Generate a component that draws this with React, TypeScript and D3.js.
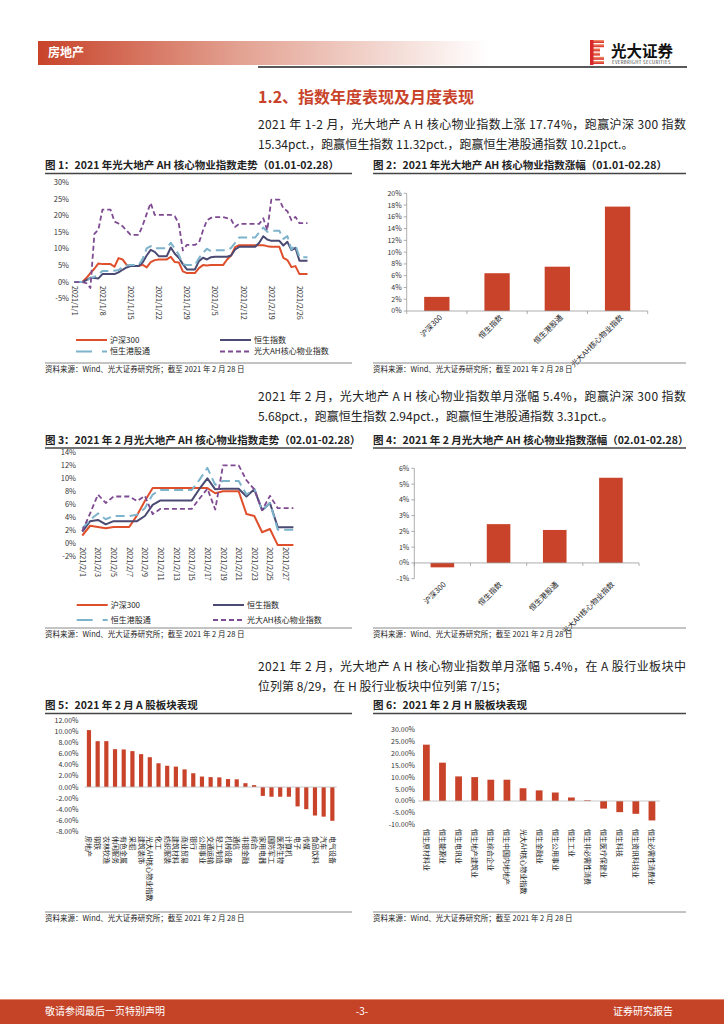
import React from 'react';
import * as d3 from 'd3';

const FONT = '"Noto Sans CJK SC", "Noto Sans", sans-serif';
const BAR = '#C8432A';
const C_HS300 = '#DF4F2C';
const C_HSI = '#4A4A72';
const C_HSGT = '#7DB3CB';
const C_AH = '#7E4A91';
const TXT = '#222';
const AX = '#333';

// ---------- Figure 1 (2021/1/1 - 2021/2/28, calendar days) ----------
const fig1Start = '2021/1/1';
const fig1TickLabels = ['2021/1/1', '2021/1/8', '2021/1/15', '2021/1/22', '2021/1/29', '2021/2/5', '2021/2/12', '2021/2/19', '2021/2/26'];
const fig1YTicks = [-5, 0, 5, 10, 15, 20, 25, 30];
const fig1Hs300 = [0, 0, 0, 1.2, 2.7, 4.0, 5.6, 5.4, 5.4, 5.4,
  4.6, 7.2, 6.8, 5.2, 4.8, 4.8, 4.8, 5.2, 4.4, 6.0,
  6.6, 6.8, 6.8, 6.8, 7.6, 6.0, 5.9, 3.2, 2.7, 2.7,
  2.7, 4.2, 5.1, 5.0, 5.1, 5.1, 5.1, 5.1, 6.8, 8.0,
  10.5, 11.1, 11.1, 11.1, 11.1, 11.1, 11.1, 11.1, 10.8, 10.6,
  10.6, 10.6, 7.3, 6.6, 4.5, 4.8, 2.4, 2.4, 2.4];
const fig1Hsi = [0, 0, 0, 0.6, 1.3, 1.2, 1.1, 2.4, 2.4, 2.4,
  2.4, 2.9, 3.7, 4.4, 4.8, 4.8, 4.8, 5.9, 8.0, 9.7,
  9.1, 7.8, 7.8, 7.8, 10.4, 8.5, 7.3, 5.4, 3.8, 3.8,
  3.8, 6.3, 7.3, 6.8, 7.5, 7.6, 7.6, 7.6, 7.6, 8.0,
  9.8, 10.6, 10.6, 10.6, 10.6, 10.6, 11.8, 13.8, 12.8, 12.4,
  12.4, 12.4, 11.0, 12.1, 9.6, 10.3, 6.4, 6.4, 6.4];
const fig1Hsgt = [0, 0, 0, 0.4, 1.1, 1.6, 2.3, 3.3, 3.3, 3.3,
  3.4, 3.6, 4.5, 5.0, 5.1, 5.1, 5.1, 7.0, 10.1, 10.8,
  10.1, 10.2, 10.2, 10.2, 11.8, 10.1, 8.2, 5.4, 5.1, 5.1,
  5.1, 7.2, 8.8, 10.0, 9.3, 9.6, 9.6, 9.6, 9.6, 10.3,
  11.8, 13.4, 13.4, 13.4, 13.4, 13.4, 15.0, 16.4, 15.1, 15.4,
  15.4, 15.4, 13.0, 13.8, 9.8, 11.1, 7.5, 7.5, 7.5];
const fig1Ah = [0, 0, 0, -0.3, -1.8, 14.5, 15.8, 21.8, 21.8, 21.8,
  18.2, 17.6, 16.8, 15.5, 14.2, 14.2, 14.2, 17.0, 20.5, 23.8,
  20.2, 20.2, 20.2, 20.2, 20.2, 19.8, 17.5, 9.5, 11.2, 11.2,
  11.2, 11.8, 15.5, 18.6, 19.3, 19.5, 19.5, 19.5, 19.2, 18.8,
  16.6, 17.5, 17.5, 17.5, 17.5, 17.5, 17.5, 19.2, 15.6, 24.8,
  24.8, 24.8, 22.2, 21.3, 18.6, 19.6, 17.7, 17.7, 17.7];

// ---------- Figure 3 (2021/2/1 - 2021/2/28) ----------
const fig3Start = '2021/2/1';
const fig3TickLabels = ['2021/2/1', '2021/2/3', '2021/2/5', '2021/2/7', '2021/2/9', '2021/2/11', '2021/2/13', '2021/2/15', '2021/2/17', '2021/2/19', '2021/2/21', '2021/2/23', '2021/2/25', '2021/2/27'];
const fig3YTicks = [-2, 0, 2, 4, 6, 8, 10, 12, 14];
const fig3Hs300 = [1.2, 2.7, 2.5, 2.3, 2.5, 2.5, 2.5, 4.3, 6.5, 8.5,
  8.5, 8.5, 8.5, 8.5, 8.5, 8.5, 8.5, 7.7, 8.0, 8.0,
  8.0, 4.5, 4.2, 1.7, 2.2, -0.28, -0.28, -0.28];
const fig3Hsi = [1.8, 3.4, 3.6, 2.9, 3.4, 3.4, 3.4, 3.4, 4.2, 5.9,
  6.6, 6.6, 6.6, 6.6, 6.6, 8.4, 10.0, 8.3, 8.4, 8.4,
  8.4, 7.2, 8.3, 5.1, 6.2, 2.46, 2.46, 2.46];
const fig3Hsgt = [2.3, 3.6, 4.6, 3.7, 4.2, 4.2, 4.2, 4.4, 5.4, 7.5,
  8.2, 8.2, 8.2, 8.2, 8.2, 9.8, 11.6, 9.0, 9.6, 9.6,
  9.6, 7.5, 8.4, 5.0, 6.2, 2.09, 2.09, 2.09];
const fig3Ah = [1.9, 4.6, 7.5, 6.2, 7.2, 7.2, 7.2, 6.5, 7.3, 4.5,
  5.3, 5.3, 5.3, 5.3, 5.3, 6.9, 8.4, 5.2, 12.0, 12.0,
  12.0, 9.7, 8.3, 5.1, 7.3, 5.4, 5.4, 5.4];

// ---------- Figures 2 & 4 ----------
const indexNames = ['沪深300', '恒生指数', '恒生港股通', '光大AH核心物业指数'];
const fig2Values = [2.40, 6.42, 7.53, 17.74];
const fig2YTicks = [0, 2, 4, 6, 8, 10, 12, 14, 16, 18, 20];
const fig4Values = [-0.28, 2.46, 2.09, 5.40];
const fig4YTicks = [-1, 0, 1, 2, 3, 4, 5, 6];

// ---------- Figure 5 (A-share sectors) ----------
const fig5Sectors = ['房地产', '钢铁', '农林牧渔', '休闲服务', '有色金属', '采掘', '建筑装饰', '光大AH核心物业指数', '化工', '纺织服装',
  '建筑材料', '商业贸易', '银行', '公用事业', '交通运输', '轻工制造', '机械设备', '通信', '非银金融', '综合',
  '家用电器', '国防军工', '医药生物', '计算机', '电子', '传媒', '食品饮料', '汽车', '电气设备'];
const fig5Values = [10.3, 8.3, 8.3, 6.85, 6.8, 6.5, 5.95, 5.4, 4.3, 3.85,
  3.7, 3.2, 2.5, 1.9, 1.8, 1.75, 1.45, 1.4, 0.7, 0.35,
  -1.6, -1.75, -1.75, -1.75, -3.5, -4.0, -5.15, -5.35, -6.1];
const fig5YTicks = [-8, -6, -4, -2, 0, 2, 4, 6, 8, 10, 12];

// ---------- Figure 6 (H-share sectors) ----------
const fig6Sectors = ['恒生原材料业', '恒生能源业', '恒生电讯业', '恒生地产建筑业', '恒生综合企业', '恒生中国内地地产', '光大AH核心物业指数', '恒生金融业',
  '恒生公用事业', '恒生工业', '恒生非必需性消费', '恒生医疗保健业', '恒生科技', '恒生资讯科技业', '恒生必需性消费业'];
const fig6Values = [23.8, 16.2, 10.4, 10.1, 9.0, 9.0, 5.4, 4.5, 3.6, 1.5, 0.3, -3.2, -4.7, -5.4, -8.2];
const fig6YTicks = [-10, -5, 0, 5, 10, 15, 20, 25, 30];

const SOURCE = '资料来源：Wind、光大证券研究所；截至 2021 年 2 月 28 日';

const parseDay = d3.timeParse('%Y/%m/%d');

type Series = { name: string; values: number[]; color: string; dash?: string; width: number };

function LineFigure(props: {
  start: string; ticks: string[]; series: Series[]; yTicks: number[];
  xRange: [number, number]; yDomain: [number, number]; yRange: [number, number];
  yLabelX: number; legendY: [number, number]; legendX: [number, number];
}) {
  const { start, ticks, series, yTicks, xRange, yDomain, yRange, yLabelX, legendY, legendX } = props;
  const n = series[0].values.length;
  const x = d3.scaleLinear().domain([0, n - 1]).range(xRange);
  const y = d3.scaleLinear().domain(yDomain).range(yRange);
  const startDate = parseDay(start) as Date;
  const line = d3.line<number>().x((_, i) => x(i)).y((d) => y(d));
  const legendPos = [
    [legendX[0], legendY[0]], [legendX[1], legendY[0]], [legendX[0], legendY[1]], [legendX[1], legendY[1]],
  ];
  return (
    <g>
      {yTicks.map((t) => (
        <text key={'yt' + t} x={yLabelX} y={y(t)} dy="0.35em" textAnchor="end" fontSize={7.5} fill={AX}>{t + '%'}</text>
      ))}
      {ticks.map((lab) => {
        const di = d3.timeDay.count(startDate, parseDay(lab) as Date);
        return (
          <text key={'xt' + lab} transform={`translate(${x(di)},${y(0) + 4}) rotate(90)`} dy="0.35em" fontSize={7.2} fill={AX}>{lab}</text>
        );
      })}
      {series.map((s) => (
        <path key={s.name} d={line(s.values) || ''} fill="none" stroke={s.color} strokeWidth={s.width}
          strokeDasharray={s.dash} strokeLinejoin="round" />
      ))}
      {series.map((s, i) => (
        <g key={'lg' + s.name}>
          <line x1={legendPos[i][0]} x2={legendPos[i][0] + 31} y1={legendPos[i][1]} y2={legendPos[i][1]}
            stroke={s.color} strokeWidth={s.width} strokeDasharray={s.dash === '9,5' ? '16,10' : s.dash} />
          <text x={legendPos[i][0] + 34} y={legendPos[i][1]} dy="0.35em" fontSize={8} fill={TXT}>{s.name}</text>
        </g>
      ))}
    </g>
  );
}

function IndexBarFigure(props: {
  values: number[]; yTicks: number[]; xRange: [number, number]; yDomain: [number, number]; yRange: [number, number];
  labelY: number; labelDx: number;
}) {
  const { values, yTicks, xRange, yDomain, yRange, labelY, labelDx } = props;
  const x = d3.scaleBand<string>().domain(indexNames).range(xRange).paddingInner(0.58).paddingOuter(0.29);
  const y = d3.scaleLinear().domain(yDomain).range(yRange);
  const bounds = d3.range(indexNames.length + 1).map((i) => xRange[0] + i * (xRange[1] - xRange[0]) / indexNames.length);
  return (
    <g>
      <line x1={xRange[0]} x2={xRange[0]} y1={yRange[0]} y2={yRange[1]} stroke="#999" strokeWidth={0.8} />
      {yTicks.map((t) => (
        <g key={'t' + t}>
          <line x1={xRange[0] - 3} x2={xRange[0]} y1={y(t)} y2={y(t)} stroke="#999" strokeWidth={0.8} />
          <text x={xRange[0] - 5} y={y(t)} dy="0.35em" textAnchor="end" fontSize={7} fill={AX}>{t + '%'}</text>
        </g>
      ))}
      {values.map((v, i) => (
        <rect key={'b' + i} x={x(indexNames[i])} width={x.bandwidth()} y={y(Math.max(0, v))}
          height={Math.abs(y(v) - y(0))} fill={BAR} />
      ))}
      <line x1={xRange[0]} x2={xRange[1]} y1={y(0)} y2={y(0)} stroke="#999" strokeWidth={0.8} />
      {bounds.map((b, i) => (
        <line key={'bt' + i} x1={b} x2={b} y1={y(0)} y2={y(0) + 3} stroke="#999" strokeWidth={0.8} />
      ))}
      {indexNames.map((c) => (
        <text key={'l' + c} transform={`translate(${(x(c) as number) + x.bandwidth() / 2 + labelDx},${labelY}) rotate(-45)`}
          textAnchor="end" fontSize={7.5} fill={TXT}>{c}</text>
      ))}
    </g>
  );
}

function SectorBarFigure(props: {
  cats: string[]; values: number[]; yTicks: number[]; xRange: [number, number]; yDomain: [number, number];
  yRange: [number, number]; labelY: number; yLabelX: number; padding: number;
}) {
  const { cats, values, yTicks, xRange, yDomain, yRange, labelY, yLabelX, padding } = props;
  const x = d3.scaleBand<string>().domain(cats).range(xRange).paddingInner(padding).paddingOuter(padding / 2);
  const y = d3.scaleLinear().domain(yDomain).range(yRange);
  return (
    <g>
      {yTicks.map((t) => (
        <text key={'t' + t} x={yLabelX} y={y(t)} dy="0.35em" textAnchor="end" fontSize={7} fill={AX}>{t.toFixed(2) + '%'}</text>
      ))}
      {values.map((v, i) => (
        <rect key={'b' + i} x={x(cats[i])} width={x.bandwidth()} y={y(Math.max(0, v))}
          height={Math.abs(y(v) - y(0))} fill={BAR} />
      ))}
      <line x1={xRange[0]} x2={xRange[1]} y1={y(0)} y2={y(0)} stroke="#bbb" strokeWidth={0.8} />
      {cats.map((c) => (
        <text key={'l' + c} transform={`translate(${(x(c) as number) + x.bandwidth() / 2},${labelY}) rotate(90)`}
          dy="0.35em" fontSize={7} fill={TXT}>{c}</text>
      ))}
    </g>
  );
}

function FigTitle({ x, y, x2, text }: { x: number; y: number; x2: number; text: string }) {
  return (
    <g>
      <text x={x} y={y} fontSize={10.5} fontWeight="bold" fill={TXT}>{text}</text>
      <line x1={x} x2={x2} y1={y + 4.5} y2={y + 4.5} stroke="#444" strokeWidth={1.3} />
    </g>
  );
}

function Source({ x, y, x2 }: { x: number; y: number; x2: number }) {
  return (
    <g>
      <line x1={x} x2={x2} y1={y} y2={y} stroke="#888" strokeWidth={1} />
      <text x={x} y={y + 8.5} fontSize={7.5} fill={TXT}>{SOURCE}</text>
    </g>
  );
}

export default function App() {
  const fig1Series: Series[] = [
    { name: '沪深300', values: fig1Hs300, color: C_HS300, width: 2 },
    { name: '恒生指数', values: fig1Hsi, color: C_HSI, width: 2 },
    { name: '恒生港股通', values: fig1Hsgt, color: C_HSGT, dash: '9,5', width: 2 },
    { name: '光大AH核心物业指数', values: fig1Ah, color: C_AH, dash: '5,3', width: 1.8 },
  ];
  const fig3Series: Series[] = [
    { name: '沪深300', values: fig3Hs300, color: C_HS300, width: 2 },
    { name: '恒生指数', values: fig3Hsi, color: C_HSI, width: 2 },
    { name: '恒生港股通', values: fig3Hsgt, color: C_HSGT, dash: '9,5', width: 2 },
    { name: '光大AH核心物业指数', values: fig3Ah, color: C_AH, dash: '5,3', width: 1.8 },
  ];
  const logoBars = [0, 1, 2, 3, 4, 5];
  return (
    <svg width={724} height={1024} viewBox="0 0 724 1024"
      style={{ position: 'absolute', left: 0, top: 0, background: '#fff', fontFamily: FONT }}>
      <defs>
        <linearGradient id="hdr" x1="0" x2="1" y1="0" y2="0">
          <stop offset="0" stopColor="#C8432A" />
          <stop offset="0.45" stopColor="#E3A292" />
          <stop offset="1" stopColor="#ffffff" />
        </linearGradient>
        <linearGradient id="logo" x1="0" x2="0" y1="0" y2="1">
          <stop offset="0" stopColor="#F29A6E" />
          <stop offset="1" stopColor="#D8282A" />
        </linearGradient>
      </defs>
      {/* header */}
      <rect x={38} y={41} width={450} height={24} fill="url(#hdr)" />
      <text x={48} y={57} fontSize={12} fontWeight="bold" fill="#fff">房地产</text>
      {logoBars.map((i) => (
        <rect key={'lb' + i} x={590} y={40 + i * 4.2} width={i === 2 || i === 3 ? 10 : 14} height={3} fill="url(#logo)" />
      ))}
      <rect x={590} y={40} width={3.5} height={25} fill="#D8282A" />
      <text x={611} y={57} fontSize={15.5} fontWeight="bold" fill="#111">光大证券</text>
      <text x={612} y={64} fontSize={4.3} fill="#333" letterSpacing={0.4}>EVERBRIGHT SECURITIES</text>
      <line x1={258} x2={687} y1={67} y2={67} stroke="#222" strokeWidth={1.5} />

      <text x={258} y={103} fontSize={16} fontWeight="bold" fill={BAR}>1.2、指数年度表现及月度表现</text>

      <text x={258} y={129} fontSize={12} fill={TXT} textLength={428} lengthAdjust="spacing">2021 年 1-2 月，光大地产 A H 核心物业指数上涨 17.74%，跑赢沪深 300 指数</text>
      <text x={258} y={149} fontSize={12} fill={TXT}>15.34pct.，跑赢恒生指数 11.32pct.，跑赢恒生港股通指数 10.21pct.。</text>

      <FigTitle x={45} y={169} x2={352} text="图 1：2021 年光大地产 AH 核心物业指数走势（01.01-02.28）" />
      <FigTitle x={373} y={169} x2={686} text="图 2：2021 年光大地产 AH 核心物业指数涨幅（01.01-02.28）" />

      <LineFigure start={fig1Start} ticks={fig1TickLabels} series={fig1Series} yTicks={fig1YTicks}
        xRange={[74.3, 307.5]} yDomain={[-5, 30]} yRange={[298.7, 182.3]} yLabelX={69}
        legendY={[340, 351.5]} legendX={[76, 220]} />
      <IndexBarFigure values={fig2Values} yTicks={fig2YTicks} xRange={[406.7, 647.7]} yDomain={[0, 20]}
        yRange={[311, 193.3]} labelY={318} labelDx={6} />

      <Source x={45} y={363} x2={352} />
      <Source x={373} y={363} x2={686} />

      <text x={258} y={401} fontSize={12} fill={TXT} textLength={428} lengthAdjust="spacing">2021 年 2 月，光大地产 A H 核心物业指数单月涨幅 5.4%，跑赢沪深 300 指数</text>
      <text x={258} y={421} fontSize={12} fill={TXT}>5.68pct.，跑赢恒生指数 2.94pct.，跑赢恒生港股通指数 3.31pct.。</text>

      <FigTitle x={45} y={443.5} x2={352} text="图 3：2021 年 2 月光大地产 AH 核心物业指数走势（02.01-02.28）" />
      <FigTitle x={373} y={443.5} x2={686} text="图 4：2021 年 2 月光大地产 AH 核心物业指数涨幅（02.01-02.28）" />

      <LineFigure start={fig3Start} ticks={fig3TickLabels} series={fig3Series} yTicks={fig3YTicks}
        xRange={[82.3, 293.4]} yDomain={[-2, 14]} yRange={[556.3, 452.3]} yLabelX={76}
        legendY={[605, 620]} legendX={[76.7, 213]} />
      <IndexBarFigure values={fig4Values} yTicks={fig4YTicks} xRange={[414.3, 639]} yDomain={[-1, 6]}
        yRange={[578.7, 468.3]} labelY={585} labelDx={4} />

      <Source x={45} y={628} x2={352} />
      <Source x={373} y={628} x2={686} />

      <text x={258} y={671} fontSize={12} fill={TXT} textLength={428} lengthAdjust="spacing">2021 年 2 月，光大地产 A H 核心物业指数单月涨幅 5.4%，在 A 股行业板块中</text>
      <text x={258} y={691} fontSize={12} fill={TXT}>位列第 8/29，在 H 股行业板块中位列第 7/15；</text>

      <FigTitle x={45} y={709} x2={352} text="图 5：2021 年 2 月 A 股板块表现" />
      <FigTitle x={373} y={709} x2={686} text="图 6：2021 年 2 月 H 股板块表现" />

      <SectorBarFigure cats={fig5Sectors} values={fig5Values} yTicks={fig5YTicks} xRange={[84.6, 336.7]}
        yDomain={[-8, 12]} yRange={[831.3, 720.7]} labelY={836} yLabelX={78.5} padding={0.52} />
      <SectorBarFigure cats={fig6Sectors} values={fig6Values} yTicks={fig6YTicks} xRange={[418.3, 660]}
        yDomain={[-10, 30]} yRange={[824.7, 730]} labelY={829} yLabelX={415} padding={0.58} />

      <Source x={45} y={912} x2={352} />
      <Source x={373} y={912} x2={686} />

      {/* footer */}
      <rect x={0} y={999} width={724} height={25} fill="#C54428" />
      <line x1={0} x2={724} y1={999.5} y2={999.5} stroke="#E58C72" strokeWidth={1} />
      <text x={45} y={1015} fontSize={10} fill="#fff">敬请参阅最后一页特别声明</text>
      <text x={362} y={1015} fontSize={10} fill="#fff" textAnchor="middle">-3-</text>
      <text x={673} y={1015} fontSize={10} fill="#fff" textAnchor="end">证券研究报告</text>
    </svg>
  );
}
